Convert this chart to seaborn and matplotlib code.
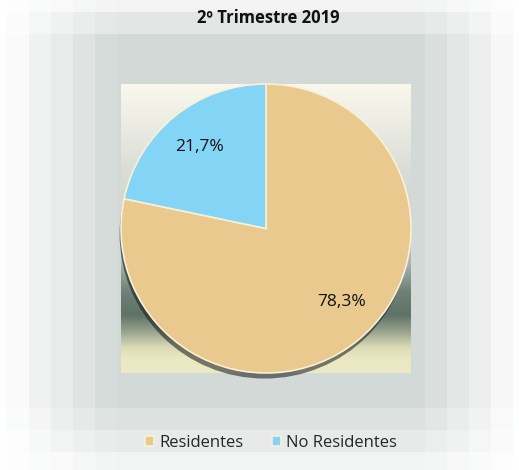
"""Pie chart: residentes vs no residentes, 2º Trimestre 2019."""

import matplotlib

matplotlib.use("Agg")
import matplotlib.pyplot as plt
import matplotlib.patheffects as pe
from matplotlib.colors import LinearSegmentedColormap
from matplotlib.patches import Circle
import numpy as np
import seaborn as sns

# ---------------------------------------------------------------------------
# Data
# ---------------------------------------------------------------------------

TITLE = "2º Trimestre 2019"
categories = ["Residentes", "No Residentes"]
shares = [78.3, 21.7]

# ---------------------------------------------------------------------------
# Style
# ---------------------------------------------------------------------------

sns.set_theme(style="white")
plt.rcParams["font.family"] = ["Open Sans", "DejaVu Sans"]

colours = ["#E9C98D", "#84D4F6"]
W, H = 519, 470

fig = plt.figure(figsize=(W / 100, H / 100), dpi=100)

# blurred, pixelated grey panel behind everything
bg_ax = fig.add_axes([0, 0, 1, 1])
block = 22
xc = np.arange(W)
yc = np.arange(H)
bx = ((xc - 7) // block) * block + 7 + block / 2   # block centres
by = ((yc - 12) // block) * block + 12 + block / 2
fx = np.interp(bx, [0, 10, 115, 417, 515, 519], [0.03, 0.05, 1, 1, 0.08, 0.03])
fy = np.interp(by, [-11, 45, 398, 480], [0.1, 1, 1, 0.1])
val = np.outer(fy, fx)[..., None]
white = np.array([1.0, 1.0, 1.0])
grey = np.array([211, 217, 214]) / 255.0
bg_ax.imshow(white * (1 - val) + grey * val, aspect="auto", interpolation="nearest")
bg_ax.axis("off")

# plot area with vertical gradient
left, right, top, bottom = 121, 411, 84, 373
ax = fig.add_axes([left / W, 1 - bottom / H, (right - left) / W, (bottom - top) / H])
grad = LinearSegmentedColormap.from_list("plot_bg", [
    (0.0, "#FAF8EC"),
    (0.16, "#E9EAE2"),
    (0.30, "#D9DDD6"),
    (0.50, "#CDD3CD"),
    (0.62, "#A9B3AC"),
    (0.72, "#6E8077"),
    (0.80, "#5F7268"),
    (0.86, "#9AA58F"),
    (0.91, "#D9D9B4"),
    (0.95, "#EAE8C2"),
    (1.0, "#ECEAC6"),
])
ax.imshow(np.linspace(0, 1, 256).reshape(-1, 1), cmap=grad, aspect="auto",
          extent=[-1.0, 1.0, -1.0, 1.0], zorder=0)

# soft shadow disc under the pie
shadow = Circle((0, 0), 1.0, facecolor="#3B4A44", edgecolor="none", zorder=1,
                clip_on=False,
                path_effects=[pe.withSimplePatchShadow(offset=(-1, -4), alpha=0.55)])
ax.add_patch(shadow)

wedges, _, autotexts = ax.pie(
    shares,
    colors=colours,
    startangle=90,
    counterclock=False,
    radius=1.0,
    autopct=lambda p: f"{p:.1f}%".replace(".", ","),
    pctdistance=0.73,
    wedgeprops=dict(edgecolor="#F7F1DA", linewidth=1.2, zorder=2),
    textprops=dict(fontsize=12.5, color="#111111"),
)
for w in wedges:
    w.set_zorder(2)
    w.set_clip_on(False)
for t in autotexts:
    t.set_zorder(3)
# nudge the large label slightly clockwise as in the original
autotexts[0].set_position((0.52, -0.51))

ax.set_xlim(-1.0, 1.0)
ax.set_ylim(-1.0, 1.0)
ax.set_aspect("auto")
ax.axis("off")

fig.text(0.517, 1 - 18 / H, TITLE, ha="center", va="center",
         fontsize=12, fontweight="bold", color="#111111")

fig.legend(
    wedges, categories,
    loc="center", bbox_to_anchor=(271 / W, 1 - 443 / H),
    ncol=2, frameon=False, fontsize=12,
    handlelength=0.55, handleheight=0.55, handletextpad=0.3, columnspacing=1.7,
)

fig.savefig("out.png", dpi=100)
plt.close(fig)
